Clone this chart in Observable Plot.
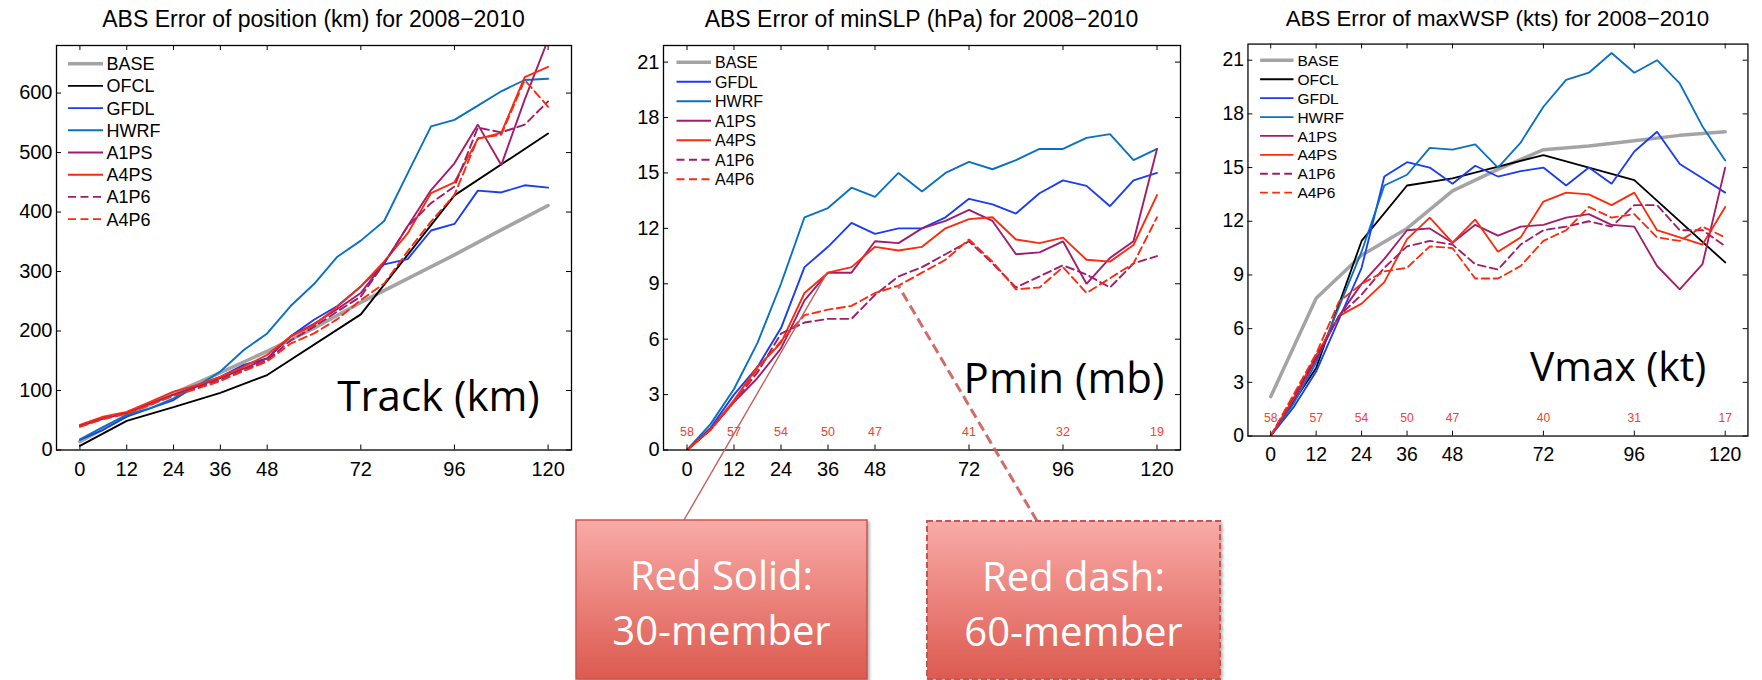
<!DOCTYPE html>
<html>
<head>
<meta charset="utf-8">
<script src="https://cdn.jsdelivr.net/npm/d3@7"></script>
<script src="https://cdn.jsdelivr.net/npm/@observablehq/plot@0.6"></script>
<style>
  html, body { margin: 0; padding: 0; background: #fff; overflow: hidden; }
  #page { position: relative; width: 1762px; height: 680px; overflow: hidden; background: #fff; }
  .panel { position: absolute; top: 0; }
  #notes { position: absolute; left: 0; top: 0; pointer-events: none; }
</style>
</head>
<body>
<div id="page"></div>
<script>
// ---- forecast lead times (h) ----
const hours6 = [0, 6, 12, 18, 24, 30, 36, 42, 48, 54, 60, 66, 72, 78, 84, 90, 96, 102, 108, 114, 120];
const hours12 = [0, 12, 24, 36, 48, 60, 72, 84, 96, 108, 120];
const hoursOfcl = [0, 12, 24, 36, 48, 72, 96, 120];
const xTicks = [0, 12, 24, 36, 48, 72, 96, 120];

// ---- track error (km) ----
const trackBase = [14, 58, 95, 130, 166, 205, 248, 288, 328, 370, 411];
const trackOfcl = [7, 49, 72, 96, 126, 228, 428, 532];
const trackGfdl = [17, 34, 56, 70, 84, 109, 123, 143, 154, 191, 219, 242, 275, 312, 321, 369, 380, 436, 433, 445, 441];
const trackHwrf = [18, 39, 59, 70, 87, 107, 132, 168, 196, 242, 279, 325, 352, 385, 465, 544, 555, 579, 603, 622, 624];
const trackA1ps = [40, 53, 62, 78, 93, 107, 121, 137, 154, 191, 212, 237, 264, 314, 376, 437, 482, 547, 479, 589, 690];
const trackA4ps = [42, 56, 64, 81, 98, 109, 123, 140, 160, 191, 210, 241, 275, 317, 364, 432, 450, 523, 533, 627, 644];
const trackA1p6 = [40, 53, 62, 77, 92, 105, 118, 134, 151, 184, 207, 233, 258, 314, 376, 415, 443, 542, 534, 547, 586];
const trackA4p6 = [39, 52, 61, 76, 91, 103, 116, 133, 149, 179, 196, 220, 252, 280, 334, 384, 429, 524, 530, 622, 577];
const trackTicks = [0, 100, 200, 300, 400, 500, 600];

// ---- minimum sea-level pressure error (hPa) ----
const pminGfdl = [0, 1.2, 3.0, 4.5, 6.6, 9.9, 11.0, 12.3, 11.7, 12.0, 12.0, 12.6, 13.6, 13.3, 12.8, 13.9, 14.6, 14.3, 13.2, 14.6, 15.0];
const pminHwrf = [0, 1.4, 3.3, 5.8, 9.0, 12.6, 13.1, 14.2, 13.7, 15.0, 14.0, 15.0, 15.6, 15.2, 15.7, 16.3, 16.3, 16.9, 17.1, 15.7, 16.3];
const pminA1ps = [0, 1.1, 2.6, 3.9, 5.5, 8.1, 9.6, 9.6, 11.3, 11.2, 12.0, 12.4, 13.0, 12.4, 10.6, 10.7, 11.3, 9.0, 10.4, 11.3, 16.3];
const pminA4ps = [0, 1.1, 2.7, 4.5, 5.8, 8.5, 9.6, 9.9, 11.0, 10.8, 11.0, 12.0, 12.5, 12.6, 11.4, 11.2, 11.5, 10.3, 10.2, 11.1, 13.8];
const pminA1p6 = [0, 1.1, 2.6, 4.2, 6.3, 6.9, 7.1, 7.1, 8.4, 9.4, 9.9, 10.6, 11.3, 10.1, 8.8, 9.4, 10.0, 9.5, 8.8, 10.1, 10.5];
const pminA4p6 = [0, 1.1, 2.6, 4.4, 5.9, 7.3, 7.6, 7.8, 8.5, 8.9, 9.6, 10.3, 11.4, 10.2, 8.7, 8.8, 9.9, 8.5, 9.3, 10.1, 12.6];

// ---- maximum wind speed error (kt) ----
const vmaxBase = [2.2, 7.7, 10.1, 11.6, 13.7, 14.9, 16.0, 16.2, 16.5, 16.8, 17.0];
const vmaxOfcl = [0, 3.8, 10.9, 14.0, 14.4, 15.7, 14.3, 9.7];
const vmaxGfdl = [0, 1.6, 3.6, 6.5, 9.4, 14.5, 15.3, 15.0, 14.1, 15.1, 14.5, 14.8, 15.0, 14.0, 15.0, 14.1, 15.9, 17.0, 15.2, 14.4, 13.6];
const vmaxHwrf = [0, 1.8, 4.1, 7.2, 10.3, 14.0, 14.6, 16.1, 16.0, 16.3, 15.0, 16.4, 18.4, 19.9, 20.3, 21.4, 20.3, 21.0, 19.7, 17.3, 15.4];
const vmaxA1ps = [0, 2.0, 4.3, 6.7, 8.5, 9.9, 11.5, 11.6, 10.8, 11.8, 11.2, 11.7, 11.8, 12.2, 12.4, 11.8, 11.7, 9.5, 8.2, 9.6, 15.0];
const vmaxA4ps = [0, 2.1, 4.5, 6.7, 7.4, 8.6, 11.0, 12.2, 10.8, 12.1, 10.3, 11.1, 13.1, 13.6, 13.5, 12.9, 13.6, 11.5, 11.1, 10.7, 12.8];
const vmaxA1p6 = [0, 2.2, 4.4, 6.7, 7.9, 9.4, 10.6, 10.9, 10.7, 9.6, 9.3, 10.7, 11.5, 11.7, 12.0, 11.7, 12.9, 12.9, 11.5, 11.5, 10.6];
const vmaxA4p6 = [0, 2.3, 4.6, 7.5, 8.5, 9.2, 9.4, 10.6, 10.5, 8.8, 8.8, 9.5, 10.9, 11.5, 12.8, 12.2, 12.4, 11.1, 10.9, 11.7, 11.1];
const intensityTicks = [0, 3, 6, 9, 12, 15, 18, 21];

// ---- verification sample sizes ----
const countHours = [0, 12, 24, 36, 48, 72, 96, 120];
const pminCounts = [58, 57, 54, 50, 47, 41, 32, 19];
const vmaxCounts = [58, 57, 54, 50, 47, 40, 31, 17];

// ---- labels ----
const titles = [
  "ABS Error of position (km) for 2008\u22122010",
  "ABS Error of minSLP (hPa) for 2008\u22122010",
  "ABS Error of maxWSP (kts) for 2008\u22122010"
];
const tags = ["Track (km)", "Pmin (mb)", "Vmax (kt)"];
const legendFull = ["BASE", "OFCL", "GFDL", "HWRF", "A1PS", "A4PS", "A1P6", "A4P6"];
const legendNoOfcl = ["BASE", "GFDL", "HWRF", "A1PS", "A4PS", "A1P6", "A4P6"];
const noteLines = [["Red Solid:", "30-member"], ["Red dash:", "60-member"]];

// ---- line styles per model ----
const DASH = "8,4.5";
const lineStyles = {
  BASE: {stroke: "#a4a4a4", strokeWidth: 3.6},
  OFCL: {stroke: "#000000", strokeWidth: 1.9},
  GFDL: {stroke: "#1b3df2", strokeWidth: 1.9},
  HWRF: {stroke: "#0a70c4", strokeWidth: 1.9},
  A1PS: {stroke: "#a21c6c", strokeWidth: 1.9},
  A4PS: {stroke: "#fb2b0e", strokeWidth: 1.9},
  A1P6: {stroke: "#a21c6c", strokeWidth: 1.9, dash: DASH},
  A4P6: {stroke: "#fb2b0e", strokeWidth: 1.9, dash: DASH}
};

const helv = "'Liberation Sans', Arial, Helvetica, sans-serif";
const sans = "'Open Sans', 'Noto Sans', sans-serif";
const INNER_H = 404.5;

function tidy(hours, values) {
  return hours.map((h, i) => ({h, v: values[i]}));
}

// titles, legend box and big panel tag, placed relative to the frame
function decor(cfg) {
  return (index, scales, values, dims) => {
    const ml = dims.marginLeft, mt = dims.marginTop;
    const fw = dims.width - dims.marginLeft - dims.marginRight;
    const fb = dims.height - dims.marginBottom;
    const g = d3.create("svg:g");
    g.append("text")
      .attr("x", ml + fw / 2).attr("y", 26.5)
      .attr("text-anchor", "middle")
      .attr("font-family", helv).attr("font-size", 23).attr("fill", "#000")
      .text(cfg.title);
    cfg.legend.forEach((name, i) => {
      const s = lineStyles[name];
      const y = mt + cfg.legendTop + i * cfg.legendStep;
      g.append("line")
        .attr("x1", ml + cfg.legendX0).attr("x2", ml + cfg.legendX1)
        .attr("y1", y).attr("y2", y)
        .attr("stroke", s.stroke).attr("stroke-width", s.strokeWidth)
        .attr("stroke-dasharray", s.dash || null);
      g.append("text")
        .attr("x", ml + cfg.legendTextX).attr("y", y).attr("dy", "0.36em")
        .attr("text-anchor", "start")
        .attr("font-family", helv).attr("font-size", cfg.legendFont).attr("fill", "#000")
        .text(name);
    });
    g.append("text")
      .attr("x", ml + cfg.tagX).attr("y", fb - cfg.tagLift)
      .attr("text-anchor", "middle")
      .attr("font-family", sans).attr("font-size", 42).attr("fill", "#000")
      .text(cfg.tag);
    return g.node();
  };
}

function makePanel(cfg) {
  const innerW = cfg.innerW;
  const marks = [];
  for (const [name, hours, values] of cfg.series) {
    const s = lineStyles[name];
    marks.push(Plot.line(tidy(hours, values), {
      x: "h", y: "v", stroke: s.stroke, strokeWidth: s.strokeWidth,
      strokeDasharray: s.dash, strokeLinejoin: "miter", clip: true
    }));
  }
  if (cfg.counts) {
    marks.push(Plot.text(countHours, {
      x: (d) => d, y: 1, text: (d, i) => String(cfg.counts[i]),
      fill: "#f4402e", fontSize: 12.5, fontFamily: helv
    }));
  }
  // inward tick marks on all four sides
  marks.push(Plot.ruleX(xTicks, {insetTop: INNER_H - 5, stroke: "#000", strokeWidth: 1}));
  marks.push(Plot.ruleX(xTicks, {insetBottom: INNER_H - 5, stroke: "#000", strokeWidth: 1}));
  marks.push(Plot.ruleY(cfg.yTicks, {insetRight: innerW - 5, stroke: "#000", strokeWidth: 1}));
  marks.push(Plot.ruleY(cfg.yTicks, {insetLeft: innerW - 5, stroke: "#000", strokeWidth: 1}));
  marks.push(Plot.frame({stroke: "#000", strokeWidth: 1.3}));
  marks.push(Plot.axisX({ticks: xTicks, tickSize: 0, tickPadding: 11.5, fontSize: 20, label: null}));
  marks.push(Plot.axisY({ticks: cfg.yTicks, tickSize: 0, tickPadding: 4, fontSize: 20, label: null}));
  marks.push(decor(cfg));
  return Plot.plot({
    width: cfg.marginLeft + innerW + cfg.marginRight,
    height: 45 + INNER_H + 40.5,
    marginLeft: cfg.marginLeft,
    marginRight: cfg.marginRight,
    marginTop: 45,
    marginBottom: 40.5,
    x: {domain: [-6, 126]},
    y: {domain: cfg.yDomain},
    style: {fontFamily: helv, background: "transparent", overflow: "visible", color: "#000"},
    marks
  });
}

const page = d3.select("#page");
function place(plot, left) {
  page.append("div").attr("class", "panel").style("left", left + "px").node().appendChild(plot);
  return plot;
}

place(makePanel({
  marginLeft: 56, innerW: 515, marginRight: 29,
  yDomain: [0, 680], yTicks: trackTicks,
  series: [
    ["BASE", hours12, trackBase], ["OFCL", hoursOfcl, trackOfcl],
    ["GFDL", hours6, trackGfdl], ["HWRF", hours6, trackHwrf],
    ["A1PS", hours6, trackA1ps], ["A4PS", hours6, trackA4ps],
    ["A1P6", hours6, trackA1p6], ["A4P6", hours6, trackA4p6]
  ],
  title: titles[0], tag: tags[0], tagX: 382.5, tagLift: 38.5,
  legend: legendFull, legendTop: 18.7, legendStep: 22.2, legendFont: 18,
  legendX0: 12, legendX1: 47, legendTextX: 50.5
}), 0);

const pminLeft = 600;
const pminPlot = place(makePanel({
  marginLeft: 63, innerW: 517, marginRight: 20,
  yDomain: [0, 21.9], yTicks: intensityTicks,
  series: [
    ["GFDL", hours6, pminGfdl], ["HWRF", hours6, pminHwrf],
    ["A1PS", hours6, pminA1ps], ["A4PS", hours6, pminA4ps],
    ["A1P6", hours6, pminA1p6], ["A4P6", hours6, pminA4p6]
  ],
  counts: pminCounts,
  title: titles[1], tag: tags[1], tagX: 401, tagLift: 56.5,
  legend: legendNoOfcl, legendTop: 17.3, legendStep: 19.5, legendFont: 16,
  legendX0: 13.5, legendX1: 48, legendTextX: 52
}), pminLeft);

place(makePanel({
  marginLeft: 49, innerW: 516, marginRight: 15,
  yDomain: [0, 21.9], yTicks: intensityTicks,
  series: [
    ["BASE", hours12, vmaxBase], ["OFCL", hoursOfcl, vmaxOfcl],
    ["GFDL", hours6, vmaxGfdl], ["HWRF", hours6, vmaxHwrf],
    ["A1PS", hours6, vmaxA1ps], ["A4PS", hours6, vmaxA4ps],
    ["A1P6", hours6, vmaxA1p6], ["A4P6", hours6, vmaxA4p6]
  ],
  counts: vmaxCounts,
  title: titles[2], tag: tags[2], tagX: 382.5, tagLift: 56.5,
  legend: legendFull, legendTop: 17.3, legendStep: 19.5, legendFont: 16,
  legendX0: 13, legendX1: 47.5, legendTextX: 51.5
}), 1200);

// ---- callout boxes pointing at the pressure curves ----
const sx = pminPlot.scale("x"), sy = pminPlot.scale("y");
const callouts = [
  {x: 576, y: 520, w: 291, h: 159, anchor: 108, dashed: false, hour: 36, values: pminA4ps, lines: noteLines[0]},
  {x: 927, y: 521, w: 293, h: 158, anchor: 110, dashed: true, hour: 54, values: pminA4p6, lines: noteLines[1]}
];

const notes = page.append("svg").attr("id", "notes").attr("width", 1762).attr("height", 680);
const defs = notes.append("defs");
const grad = defs.append("linearGradient").attr("id", "boxFill").attr("x1", 0).attr("y1", 0).attr("x2", 0).attr("y2", 1);
grad.append("stop").attr("offset", "0%").attr("stop-color", "#f9aaa7");
grad.append("stop").attr("offset", "100%").attr("stop-color", "#dc5a4f");
const shadow = defs.append("filter").attr("id", "boxShadow").attr("x", "-5%").attr("y", "-5%").attr("width", "115%").attr("height", "115%");
shadow.append("feDropShadow").attr("dx", 2).attr("dy", 2).attr("stdDeviation", 1.5).attr("flood-color", "#000").attr("flood-opacity", 0.3);

for (const c of callouts) {
  const i = hours6.indexOf(c.hour);
  const tx = pminLeft + sx.apply(c.hour);
  const ty = sy.apply(c.values[i]);
  notes.append("line")
    .attr("x1", c.x + c.anchor).attr("y1", c.y)
    .attr("x2", tx).attr("y2", ty)
    .attr("stroke", c.dashed ? "#cc5e58" : "#c0615b")
    .attr("stroke-width", c.dashed ? 3 : 1.4)
    .attr("stroke-dasharray", c.dashed ? "10,5" : null)
    .attr("opacity", c.dashed ? 0.9 : 1);
}
for (const c of callouts) {
  notes.append("rect")
    .attr("x", c.x).attr("y", c.y).attr("width", c.w).attr("height", c.h)
    .attr("fill", "url(#boxFill)")
    .attr("stroke", "#c65550").attr("stroke-width", c.dashed ? 2 : 1.5)
    .attr("stroke-dasharray", c.dashed ? "6,3" : null)
    .attr("filter", "url(#boxShadow)");
  c.lines.forEach((t, k) => {
    notes.append("text")
      .attr("x", c.x + c.w / 2).attr("y", c.y + 70 + k * 55)
      .attr("text-anchor", "middle")
      .attr("font-family", sans).attr("font-size", 40).attr("fill", "#fff")
      .text(t);
  });
}
</script>
</body>
</html>
